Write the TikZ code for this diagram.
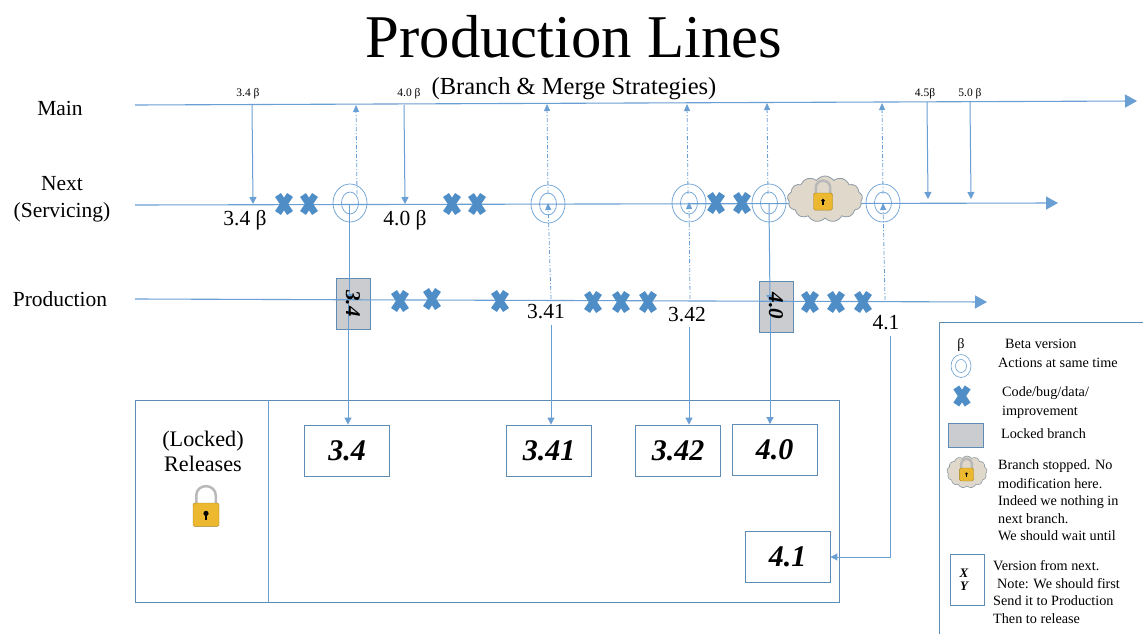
\documentclass[tikz,border=0pt]{standalone}
\usepackage{fontspec}
\setmainfont{Liberation Serif}
\usetikzlibrary{arrows.meta,shapes.geometric,shapes.symbols}
\definecolor{ln}{HTML}{6A9FD3}
\definecolor{xb}{HTML}{4F8DC6}
\definecolor{bd}{HTML}{5E8CB4}
\definecolor{gr}{HTML}{CBCCD0}
\definecolor{cl}{HTML}{DFD8CB}
\definecolor{cle}{HTML}{8E9BA6}
\definecolor{gold}{HTML}{EBB82F}
\newcommand{\fs}[1]{\fontsize{#1}{#1}\selectfont}
\tikzset{
  x=1pt,y=-1pt,
  lane/.style={draw=ln,line width=1.1pt,-{Triangle[length=12pt,width=13pt]}},
  flow/.style={draw=ln,line width=1pt,-{Triangle[length=7pt,width=7pt]}},
  merge/.style={draw=ln,line width=.8pt,dash pattern=on 4pt off 2pt on 1pt off 2pt,-{Triangle[length=7pt,width=6pt]}},
  ver/.style={draw=bd,line width=.9pt,fill=white,minimum width=85pt,minimum height=51pt,inner sep=0pt,font=\fs{30}\bfseries\itshape},
  locked/.style={draw=bd,line width=.8pt,fill=gr,minimum width=34pt,minimum height=51pt,inner sep=0pt},
  lockedtxt/.style={rotate=-90,inner sep=0pt,font=\fs{21}\bfseries\itshape},
  ringo/.style={draw=ln,line width=.7pt,ellipse,minimum width=34pt,minimum height=38pt,inner sep=0pt},
  ringi/.style={draw=ln,line width=.7pt,ellipse,minimum width=17pt,minimum height=22pt,inner sep=0pt},
  lbl/.style={inner sep=0pt,font=\fs{21.5}},
  tiny/.style={inner sep=0pt,font=\fs{11.5}},
  leg/.style={inner sep=0pt,anchor=west,font=\fs{14.2}},
  bug/.pic={\draw[xb,line width=7pt] (-6,-9) -- (6,9) (-6,9) -- (6,-9);},
  padlock/.pic={
    \draw[gray!55,line width=2.5pt] (-7.5,0) -- (-7.5,-6) arc[start angle=180,end angle=0,x radius=7.5,y radius=-7] -- (7.5,0);
    \fill[gold,draw=gold!70!black,line width=.4pt,rounded corners=1.5pt] (-10,0) rectangle (10,18);
    \fill[black] (0,8) circle[radius=2];
    \fill[black] (-1,8) rectangle (1,13);
  },
}
\begin{document}
\begin{tikzpicture}
\useasboundingbox (0,0) rectangle (1143,634);
\fill[white] (0,0) rectangle (1143,634);

% titles
\node[inner sep=0pt,font=\fs{60.7}] (title) at (574,37) {Production Lines};
\node[inner sep=0pt,font=\fs{24.5}] (sub) at (574,89) {(Branch \& Merge Strategies)};
\node[lbl] (lmain) at (60,108) {Main};
\node[lbl] (lnext) at (62,184) {Next};
\node[lbl] (lserv) at (62,212) {(Servicing)};
\node[lbl] (lprod) at (60,299) {Production};

% release panel
\node[draw=bd,line width=.9pt,minimum width=704pt,minimum height=202pt,inner sep=0pt] (panel) at (487.5,501) {};
\coordinate (divt) at (268,400); \coordinate (divb) at (268,602);
\draw[ln,line width=.9pt] (divt) -- (divb);
\node[inner sep=0pt,font=\fs{22.2}] (lrel1) at (203,441) {(Locked)};
\node[inner sep=0pt,font=\fs{22.2}] (lrel2) at (203,464) {Releases};
\pic[scale=1.3] at (206,503) {padlock};

% locked branches
\node[locked] (b34) at (353,303.5) {};
\node[locked] (b40) at (776,306.5) {};

% lanes
\coordinate (ms) at (135,105); \coordinate (me) at (1137,101);
\coordinate (ns) at (135,205); \coordinate (ne) at (1058,203);
\coordinate (ps) at (135,299); \coordinate (pe) at (987,302);
\draw[lane] (ms) -- (me);
\draw[lane] (ns) -- (ne);
\draw[lane] (ps) -- (pe);

% release boxes
\node[ver] (r34)  at (347,450.5) {3.4};
\node[ver] (r341) at (549,450.5) {3.41};
\node[ver] (r342) at (678,450.5) {3.42};
\node[ver] (r40)  at (774.5,450) {4.0};
\node[ver] (r41)  at (787.5,556.5) {4.1};

% rings
\foreach \n/\cx/\cy in {1/350/203,2/548/204,3/689/203,4/769/203,5/883/203}{
  \node[ringo] (co\n) at (\cx,\cy) {};
  \node[ringi] (ci\n) at (\cx,\cy) {};
}

% cloud
\node[cloud,cloud puffs=13,cloud puff arc=110,aspect=1.6,draw=cle,fill=cl,line width=.8pt,minimum width=75pt,minimum height=46pt,inner sep=0pt] (stop) at (825,199) {};
\pic[scale=.95] at (823,193) {padlock};

% branch coordinates on main
\coordinate (m34) at (252,105); \coordinate (n34) at (253,204);
\coordinate (m40) at (404,105); \coordinate (n40) at (405,204);
\coordinate (m45) at (927,102); \coordinate (n45) at (928,199);
\coordinate (m50) at (970,102); \coordinate (n50) at (971,199);
\draw[flow] (m34) -- (n34);
\draw[flow] (m40) -- (n40);
\draw[flow] (m45) -- (n45);
\draw[flow] (m50) -- (n50);

% merges up
\coordinate (u1a) at (357,194); \coordinate (u1b) at (356,105);
\coordinate (u2a) at (548,194); \coordinate (u2b) at (547,104);
\coordinate (u3a) at (688,194); \coordinate (u3b) at (687,104);
\coordinate (u4a) at (768,194); \coordinate (u4b) at (767,103);
\coordinate (u5a) at (883,194); \coordinate (u5b) at (882,103);
\draw[merge] (u1a) -- (u1b);
\draw[merge] (u2a) -- (u2b);
\draw[merge] (u3a) -- (u3b);
\draw[merge] (u4a) -- (u4b);
\draw[merge] (u5a) -- (u5b);
\coordinate (d2a) at (551,299); \coordinate (d2b) at (548,203);
\coordinate (d3a) at (690,299); \coordinate (d3b) at (689,202);
\coordinate (d5a) at (885,300); \coordinate (d5b) at (883,203);
\draw[merge] (d2a) -- (d2b);
\draw[merge] (d3a) -- (d3b);
\draw[merge] (d5a) -- (d5b);

% down to production and releases
\coordinate (j1) at (349,204); \coordinate (j1p) at (349,301);
\coordinate (j4) at (769,204); \coordinate (j4p) at (770,302);
\draw[flow] (j1) -- (j1p);
\draw[flow] (j4) -- (j4p);
\coordinate (s34) at (348,301);
\coordinate (s341) at (551,325);
\coordinate (s342) at (689,327);
\coordinate (s40) at (770,302);
\coordinate (s41) at (890,336);
\coordinate (c41) at (890,557);
\draw[flow] (s34) -- (s34 |- r34.north);
\draw[flow] (s341) -- (s341 |- r341.north);
\draw[flow] (s342) -- (s342 |- r342.north);
\draw[flow] (s40) -- (s40 |- r40.north);
\draw[flow] (s41) -- (c41) -- (r41.east |- c41);

% locked labels
\node[lockedtxt] (t34) at (353,303.5) {3.4};
\node[lockedtxt] (t40) at (776,306) {4.0};

% bugs
\foreach \bx/\by in {284/204,309/204,452/204,477/204,716/203,742/203,400/301,432/299,500/301,593/302,621/302,648/302,810/302,836/302,863/302}{
  \pic at (\bx,\by) {bug};
}

% labels
\node[tiny] (a34) at (248,94) {3.4 β};
\node[tiny] (a40) at (409,94) {4.0 β};
\node[tiny] (a45) at (925,94) {4.5β};
\node[tiny] (a50) at (970,94) {5.0 β};
\node[lbl] (b34t) at (245,220) {3.4 β};
\node[lbl] (b40t) at (405,220) {4.0 β};
\node[lbl] (v341) at (546,312) {3.41};
\node[lbl] (v342) at (687,315) {3.42};
\node[lbl] (v41) at (886,323) {4.1};

% legend
\coordinate (lga) at (939,634); \coordinate (lgb) at (939,322); \coordinate (lgc) at (1143,322);
\draw[bd,line width=.9pt] (lga) -- (lgb) -- (lgc);
\node[inner sep=0pt,font=\fs{14.2}] (lb) at (961,345) {β};
\node[leg] at (1005,344) {Beta version};
\node[draw=ln,line width=.6pt,ellipse,minimum width=20pt,minimum height=23pt,inner sep=0pt] (lr1) at (961,366) {};
\node[draw=ln,line width=.6pt,ellipse,minimum width=11pt,minimum height=13pt,inner sep=0pt] (lr2) at (961,366) {};
\node[leg] at (998,363) {Actions at same time};
\pic[scale=.95] at (962,396) {bug};
\node[leg] at (1002,393) {Code/bug/data/};
\node[leg] at (1002,412) {improvement};
\node[locked,minimum width=35pt,minimum height=24pt] (lg) at (965.5,435) {};
\node[leg] at (1001,434) {Locked branch};
\node[cloud,cloud puffs=13,cloud puff arc=110,aspect=1.5,draw=cle,fill=cl,line width=.6pt,minimum width=40pt,minimum height=32pt,inner sep=0pt] (lc) at (967,472) {};
\pic[scale=.72] at (966.5,468) {padlock};
\node[leg] at (998,466) {Branch stopped. No};
\node[leg] at (998,484) {modification here.};
\node[leg] at (998,502) {Indeed we nothing in};
\node[leg] at (998,519) {next branch.};
\node[leg] at (998,536) {We should wait until};
\node[draw=bd,line width=.8pt,minimum width=34pt,minimum height=51pt,inner sep=0pt] (lv) at (967,579.5) {};
\node[inner sep=0pt,font=\fs{13}\bfseries\itshape] (lvx) at (964,573) {X};
\node[inner sep=0pt,font=\fs{13}\bfseries\itshape] (lvy) at (964,586) {Y};
\node[leg] at (993,566) {Version from next.};
\node[leg] at (997,584) {Note: We should first};
\node[leg] at (993,601) {Send it to Production};
\node[leg] at (993,619) {Then to release};
\end{tikzpicture}
\end{document}
